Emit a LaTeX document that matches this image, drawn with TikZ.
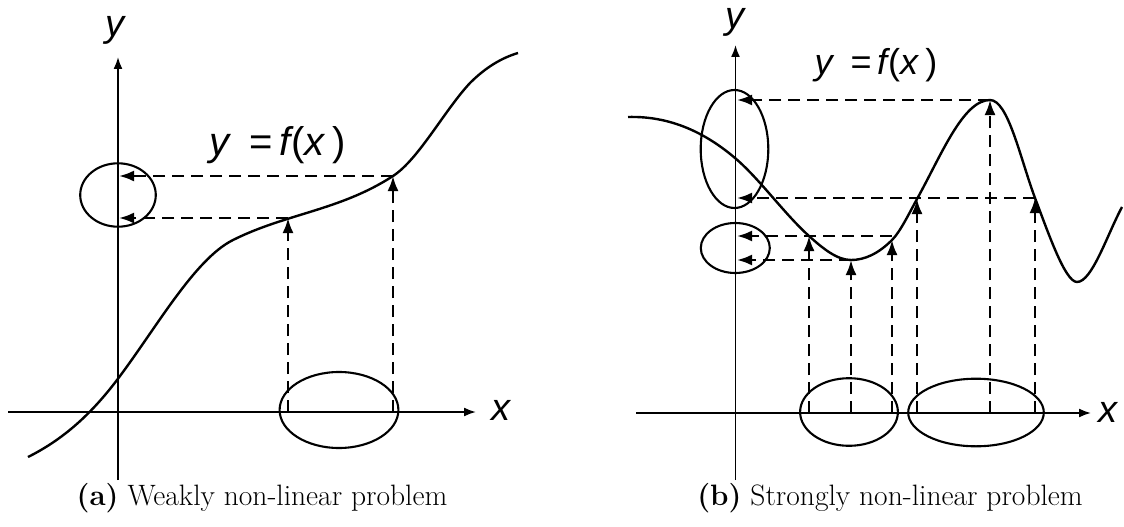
\documentclass[tikz,border=0pt]{standalone}
\usepackage{fontspec}
\newfontfamily\arialfont{Liberation Sans}
\usetikzlibrary{arrows.meta}
\newcommand{\yfx}{y\hspace{0.5em}{\upshape=}\hspace{0.15em}f\hspace{0.03em}{\upshape(}x\hspace{0.2em}{\upshape)}}
\begin{document}
\begin{tikzpicture}[x=1pt,y=-1pt,
  axis/.style={line width=1.8pt,-{Latex[length=12pt,width=9pt]}},
  curve/.style={line width=2.4pt,line join=round},
  proj/.style={line width=2.4pt,dash pattern=on 12pt off 7pt,-{Latex[length=15pt,width=11pt]}},
  oval/.style={line width=2.1pt},
  lab/.style={font=\arialfont\itshape\fontsize{38}{40}\selectfont,inner sep=0pt},
  captext/.style={font=\fontsize{29.5}{34}\selectfont,inner sep=0pt}]
\useasboundingbox (0,0) rectangle (1124,527);
% ---------------- panel (a) ----------------
\coordinate (aXs) at (8,412); \coordinate (aXe) at (476,412);
\coordinate (aYs) at (118,480); \coordinate (aYe) at (118,57);
\draw[axis] (aXs) -- (aXe);
\draw[axis] (aYs) -- (aYe);
\node[lab] (aylab) at (115,30) {y};
\node[lab] (axlab) at (501,410) {x};
\node[lab,font=\arialfont\itshape\fontsize{40}{42}\selectfont] (afx) at (278,145) {\yfx};
\coordinate (A0) at (28,457); \coordinate (A1) at (117,380); \coordinate (A2) at (233,240);
\coordinate (A3) at (393,176); \coordinate (A4) at (470,83);  \coordinate (A5) at (518,53);
\draw[curve] (A0) .. controls (58,442) and (87,419.6) .. (A1)
  .. controls (155.7,329) and (194.3,259.3) .. (A2)
  .. controls (286,213.5) and (340,210.5) .. (A3)
  .. controls (418.7,159.3) and (444.3,110.5) .. (A4)
  .. controls (486,67) and (502,57.8) .. (A5);
\coordinate (aP1) at (288,218); \coordinate (aP2) at (A3);
\coordinate (aX1) at (288,412); \coordinate (aX2) at (393,412);
\coordinate (aY1) at (119,218); \coordinate (aY2) at (119,176);
\draw[proj] (aX1) -- (aP1);
\draw[proj] (aX2) -- (aP2);
\draw[proj] (aP1) -- (aY1);
\draw[proj] (aP2) -- (aY2);
\coordinate (aEy) at (118,195); \coordinate (aEx) at (339,410);
\draw[oval] (aEy) ellipse [x radius=37.8pt, y radius=31.7pt];
\draw[oval] (aEx) ellipse [x radius=59.4pt, y radius=38pt];
\node[captext] (capa) at (262,498) {\textbf{(a)} Weakly non-linear problem};
% ---------------- panel (b) ----------------
\coordinate (bXs) at (636,413); \coordinate (bXe) at (1091,413);
\coordinate (bYs) at (735.5,480); \coordinate (bYe) at (735.5,45);
\draw[axis] (bXs) -- (bXe);
\draw[axis] (bYs) -- (bYe);
\node[lab] (bylab) at (735,22) {y};
\node[lab] (bxlab) at (1108,412) {x};
\node[lab,font=\arialfont\itshape\fontsize{36}{38}\selectfont] (bfx) at (876,65) {\yfx};
\coordinate (B0) at (628,117); \coordinate (B1) at (735,158); \coordinate (B2) at (809,236);
\coordinate (B3) at (851,260); \coordinate (B4) at (892,240); \coordinate (B5) at (917,199);
\coordinate (B6) at (990,100); \coordinate (B7) at (1035,198); \coordinate (B8) at (1077,282);
\coordinate (B9) at (1122,207);
\draw[curve] (B0) .. controls (663.7,116) and (699.3,127.7) .. (B1)
  .. controls (759.7,179) and (784.3,213.8) .. (B2)
  .. controls (823,248.6) and (837,260) .. (B3)
  .. controls (864.7,260) and (878.3,253.7) .. (B4)
  .. controls (900.3,231.7) and (908.7,214) .. (B5)
  .. controls (941.3,155.2) and (963,100) .. (B6)
  .. controls (1008,100) and (1020,157.5) .. (B7)
  .. controls (1048,232) and (1065,282) .. (B8)
  .. controls (1092,282) and (1107,235) .. (B9);
\coordinate (bP1) at (B2); \coordinate (bP2) at (B3);
\coordinate (bP3) at (B4); \coordinate (bP4) at (B5);
\coordinate (bP5) at (B6); \coordinate (bP6) at (B7);
\coordinate (bX1) at (809,413); \coordinate (bX2) at (851,413);
\coordinate (bX3) at (892,413); \coordinate (bX4) at (917,413);
\coordinate (bX5) at (990,413); \coordinate (bX6) at (1035,413);
\coordinate (bH3) at (892,236);
\coordinate (bY1) at (737,236); \coordinate (bY2) at (737,260);
\coordinate (bY5) at (737,100); \coordinate (bY6) at (737,198);
\foreach \i in {1,...,6} {\draw[proj] (bX\i) -- (bP\i);}
\draw[proj] (bH3) -- (bY1);
\draw[proj] (bP2) -- (bY2);
\draw[proj] (bP5) -- (bY5);
\draw[proj] (bP6) -- (bY6);
\coordinate (bE1) at (734.5,149); \coordinate (bE2) at (735.3,248);
\coordinate (bE3) at (849,412); \coordinate (bE4) at (976,412.5);
\draw[oval] (bE1) ellipse [x radius=33.8pt, y radius=59pt];
\draw[oval] (bE2) ellipse [x radius=34.5pt, y radius=25pt];
\draw[oval] (bE3) ellipse [x radius=48.9pt, y radius=33.8pt];
\draw[oval] (bE4) ellipse [x radius=67.8pt, y radius=33.8pt];
\node[captext] (capb) at (890,498) {\textbf{(b)} Strongly non-linear problem};
\end{tikzpicture}
\end{document}
